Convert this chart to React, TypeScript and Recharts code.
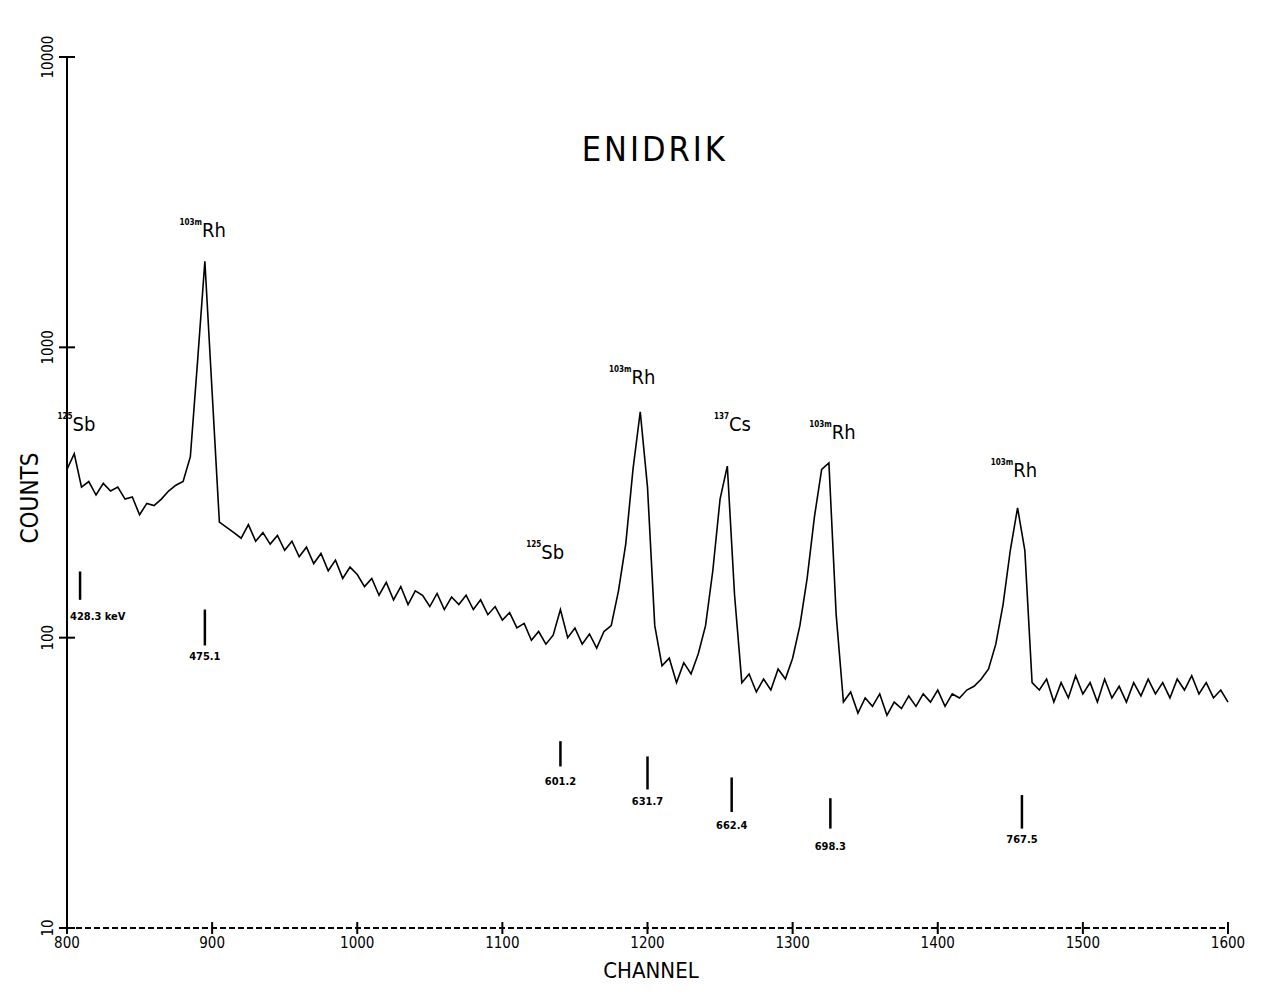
import React from "react";
import { LineChart, Line, XAxis, YAxis, ReferenceLine, ReferenceDot } from "recharts";

const counts800 = [380, 430, 330, 345, 310, 340, 320, 330, 300, 305, 265, 290, 285, 300, 320, 335, 345, 420, 900, 1980];
const counts900 = [700, 250, 240, 230, 220, 245, 215, 230, 210, 225, 200, 215, 190, 205, 180, 195, 170, 185, 160, 175];
const counts1000 = [165, 150, 160, 140, 155, 135, 150, 130, 145, 140, 128, 142, 125, 138, 130, 140, 125, 135, 120, 128];
const counts1100 = [115, 122, 108, 112, 98, 105, 95, 102, 125, 100, 108, 95, 103, 92, 105, 110, 145, 210, 380, 600];
const counts1200 = [330, 110, 80, 85, 70, 82, 75, 88, 110, 170, 300, 390, 140, 70, 75, 65, 72, 66, 78, 72];
const counts1300 = [85, 110, 160, 260, 380, 400, 120, 60, 65, 55, 62, 58, 64, 54, 60, 57, 63, 58, 64, 60];
const counts1400 = [66, 58, 64, 62, 66, 68, 72, 78, 95, 130, 200, 280, 200, 70, 66, 72, 60, 70, 62, 74];
const counts1500 = [64, 70, 60, 72, 62, 68, 60, 70, 63, 72, 64, 70, 62, 72, 66, 74, 64, 70, 62, 66];
const counts1600 = [60];
const allCounts = [...counts800, ...counts900, ...counts1000, ...counts1100, ...counts1200, ...counts1300, ...counts1400, ...counts1500, ...counts1600];
const channels = allCounts.map((_, i) => 800 + i * 5);
const data = channels.map((c, i) => ({ ch: c, counts: allCounts[i] }));

const xTicks = [800, 900, 1000, 1100, 1200, 1300, 1400, 1500, 1600];
const yTicks = [10, 100, 1000, 10000];

// peak labels: [channel, counts, mass, element]
const peakLabels: [number, number, string, string][] = [
  [812, 513, "125", "Sb"],
  [899, 2390, "103m", "Rh"],
  [1135, 186, "125", "Sb"],
  [1195, 745, "103m", "Rh"],
  [1264, 513, "137", "Cs"],
  [1333, 482, "103m", "Rh"],
  [1458, 357, "103m", "Rh"],
];
// energy markers: [channel, top, bottom, label counts, label]
const markers: [number, number, number, number, string][] = [
  [809, 169, 135, 115, "428.3 keV"],
  [895, 125, 94, 84, "475.1"],
  [1140, 44, 36, 31, "601.2"],
  [1200, 39, 30, 26.6, "631.7"],
  [1258, 33, 25.1, 22, "662.4"],
  [1326, 28, 22, 18.6, "698.3"],
  [1458, 28.7, 22, 19.6, "767.5"],
];

const font = "'DejaVu Sans Condensed', 'DejaVu Sans', sans-serif";

const XTick = (p: any) => (
  <g>
    <line x1={p.x} x2={p.x} y1={p.y - 14} y2={p.y - 2} stroke="#000" strokeWidth={2} />
    <text x={p.x} y={p.y + 12} textAnchor="middle" fontSize={15} fontFamily={font} fill="#000">{p.payload.value}</text>
  </g>
);
const YTick = (p: any) => (
  <g>
    <line x1={p.x} x2={p.x + 16} y1={p.y} y2={p.y} stroke="#000" strokeWidth={2} />
    <text x={p.x - 6} y={p.y} transform={`rotate(-90 ${p.x - 6} ${p.y})`} textAnchor="middle" fontSize={15} fontFamily={font} fill="#000">{p.payload.value}</text>
  </g>
);

export default function App() {
  return (
    <LineChart width={1265} height={985} data={data} margin={{ top: 49, right: 45, left: 9, bottom: 25 }}>
      <XAxis dataKey="ch" type="number" domain={[800, 1600]} ticks={xTicks} tick={<XTick />} tickLine={false}
        axisLine={{ stroke: "#000", strokeWidth: 2, strokeDasharray: "6 3" }} height={40} />
      <YAxis type="number" scale="log" domain={[10, 10000]} ticks={yTicks} tick={<YTick />} tickLine={false}
        axisLine={{ stroke: "#000", strokeWidth: 2 }} width={50} allowDataOverflow />
      <Line dataKey="counts" stroke="#000" strokeWidth={1.6} dot={false} isAnimationActive={false} />
      {markers.map(([c, t, b, lc, lab], i) => (
        <ReferenceLine key={"m" + i} segment={[{ x: c, y: t }, { x: c, y: b }]} stroke="#000" strokeWidth={2.5} ifOverflow="visible" />
      ))}
      {markers.map(([c, , , lc, lab], i) => (
        <ReferenceDot key={"ml" + i} x={c} y={lc} r={0} ifOverflow="visible"
          shape={(p: any) => (
            <text x={i === 0 ? p.cx - 10 : p.cx} y={p.cy} textAnchor={i === 0 ? "start" : "middle"} fontSize={11} fontWeight="bold" fontFamily={font} fill="#000">{lab}</text>
          )} />
      ))}
      {peakLabels.map(([c, v, m, el], i) => (
        <ReferenceDot key={"p" + i} x={c} y={v} r={0} ifOverflow="visible"
          shape={(p: any) => (
            <text x={p.cx} y={p.cy} textAnchor="middle" fontFamily={font} fill="#000">
              <tspan fontSize={8} fontWeight="bold" dy={-12} dx={-8}>{m}</tspan>
              <tspan fontSize={20} dy={12}>{el}</tspan>
            </text>
          )} />
      ))}
      <ReferenceDot x={1205} y={4820} r={0} ifOverflow="visible"
        shape={(p: any) => (
          <text x={p.cx} y={p.cy + 12} textAnchor="middle" fontSize={34} fontFamily={font} fill="#000" letterSpacing={3}>ENIDRIK</text>
        )} />
      <text x={30} y={490} transform="rotate(-90 30 490)" textAnchor="middle" fontSize={24} fontFamily={font} fill="#000">COUNTS</text>
      <text x={643} y={970} textAnchor="middle" fontSize={22} fontFamily={font} fill="#000">CHANNEL</text>
    </LineChart>
  );
}
